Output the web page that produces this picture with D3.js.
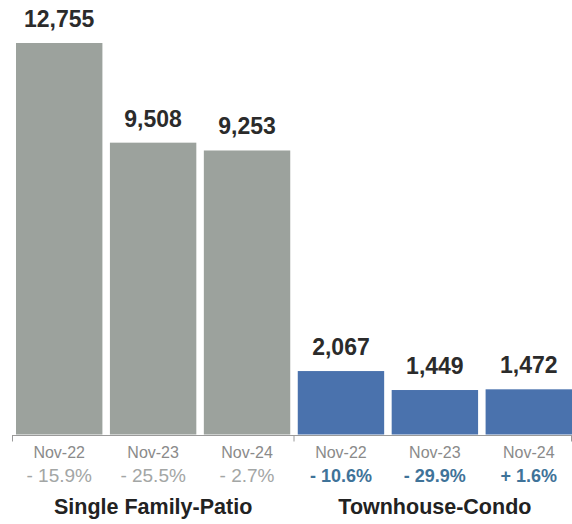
<!DOCTYPE html>
<html>
<head>
<meta charset="utf-8">
<script src="https://cdn.jsdelivr.net/npm/d3@7"></script>
<style>
  html, body { margin: 0; padding: 0; background: #ffffff; }
  svg { display: block; }
  text { font-family: "Liberation Sans", Arial, Helvetica, sans-serif; }
</style>
</head>
<body>
<svg id="chart" width="572" height="524"></svg>
<script>
// Closed sales, November of each year, by property type
const groups = ["Single Family-Patio", "Townhouse-Condo"];
const periods = ["Nov-22", "Nov-23", "Nov-24"];
const singleFamily = [12755, 9508, 9253];
const townhouse = [2067, 1449, 1472];
const singleFamilyChange = ["- 15.9%", "- 25.5%", "- 2.7%"];
const townhouseChange = ["- 10.6%", "- 29.9%", "+ 1.6%"];

const groupColors = ["#9ca29d", "#4a72ad"];
const changeColors = ["#a3a6a5", "#3f7399"];
const changeWeights = ["normal", "bold"];
const changeSizes = [19, 18];

const rows = [];
[singleFamily, townhouse].forEach((vals, g) => {
  const changes = g === 0 ? singleFamilyChange : townhouseChange;
  vals.forEach((v, i) => {
    rows.push({ key: groups[g] + "|" + periods[i], group: g, period: periods[i], value: v, change: changes[i] });
  });
});

const svg = d3.select("#chart");
const baseY = 434.5;

const x = d3.scaleBand()
  .domain(rows.map(d => d.key))
  .range([16, 572])
  .paddingInner(0.08)
  .paddingOuter(0);

const y = d3.scaleLinear()
  .domain([0, 12755])
  .range([baseY, 43]);

// bars
svg.append("g").selectAll("rect")
  .data(rows)
  .join("rect")
  .attr("x", d => x(d.key))
  .attr("y", d => y(d.value))
  .attr("width", x.bandwidth())
  .attr("height", d => baseY - y(d.value))
  .attr("fill", d => groupColors[d.group]);

// value labels above the bars
svg.append("g").selectAll("text")
  .data(rows)
  .join("text")
  .attr("x", d => x(d.key) + x.bandwidth() / 2)
  .attr("y", d => y(d.value) - 16)
  .attr("text-anchor", "middle")
  .attr("font-size", 23)
  .attr("font-weight", "bold")
  .attr("fill", "#2b2b2b")
  .text(d => d3.format(",")(d.value));

// baseline with group separators
const groupEdge = (x(rows[2].key) + x.bandwidth() + x(rows[3].key)) / 2;
const axisG = svg.append("g").attr("stroke", "#9a9a9a").attr("stroke-width", 1);
axisG.append("line")
  .attr("x1", 12).attr("x2", 572)
  .attr("y1", baseY + 1).attr("y2", baseY + 1);
[12.5, groupEdge, 571.5].forEach(tx => {
  axisG.append("line")
    .attr("x1", tx).attr("x2", tx)
    .attr("y1", baseY + 1).attr("y2", baseY + 7);
});

// period labels
svg.append("g").selectAll("text")
  .data(rows)
  .join("text")
  .attr("x", d => x(d.key) + x.bandwidth() / 2)
  .attr("y", 458)
  .attr("text-anchor", "middle")
  .attr("font-size", 16)
  .attr("fill", "#8a8a8a")
  .text(d => d.period);

// year-over-year change
svg.append("g").selectAll("text")
  .data(rows)
  .join("text")
  .attr("x", d => x(d.key) + x.bandwidth() / 2)
  .attr("y", 482)
  .attr("text-anchor", "middle")
  .attr("font-size", d => changeSizes[d.group])
  .attr("font-weight", d => changeWeights[d.group])
  .attr("fill", d => changeColors[d.group])
  .text(d => d.change);

// group titles
svg.append("g").selectAll("text")
  .data(groups)
  .join("text")
  .attr("x", (g, i) => {
    const first = x(rows[i * 3].key);
    const last = x(rows[i * 3 + 2].key) + x.bandwidth();
    return (first + last) / 2;
  })
  .attr("y", 514)
  .attr("text-anchor", "middle")
  .attr("font-size", 21.5)
  .attr("font-weight", "bold")
  .attr("fill", "#222222")
  .text(d => d);
</script>
</body>
</html>
